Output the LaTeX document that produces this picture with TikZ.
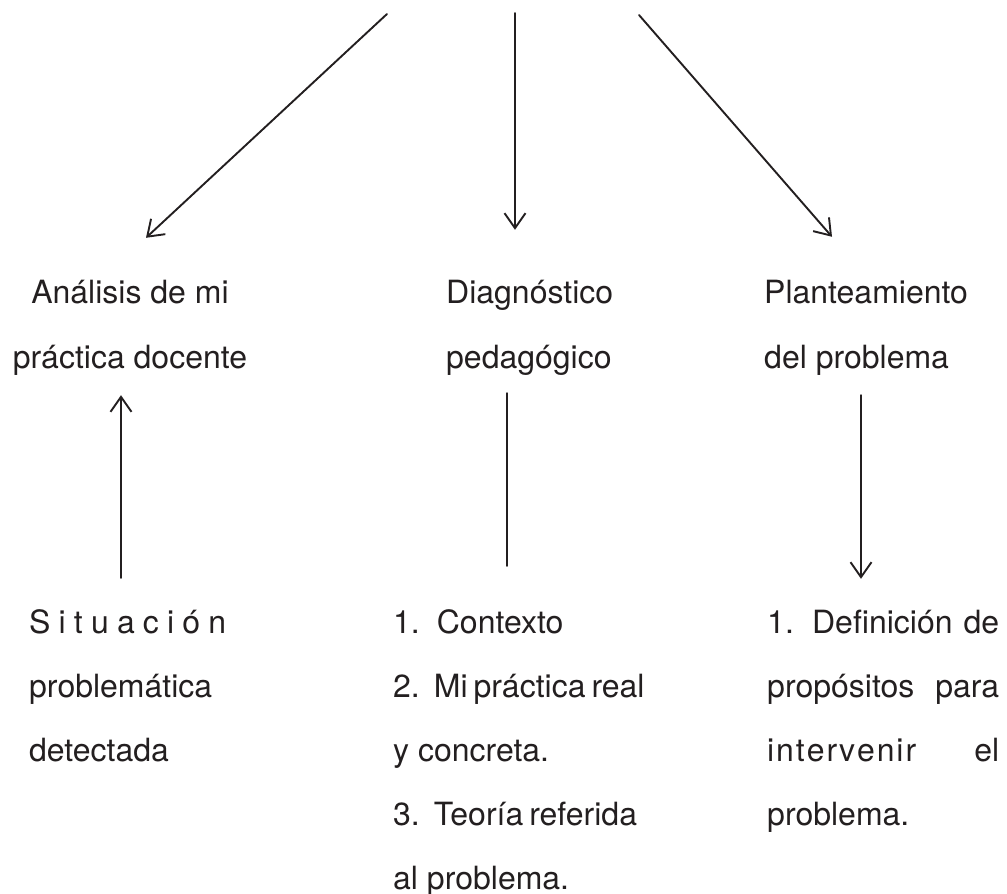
\documentclass[tikz,border=0pt]{standalone}
\usepackage{fontspec}
\setmainfont{TeX Gyre Heros}
\usetikzlibrary{arrows.meta}
\definecolor{ink}{HTML}{231F20}
\newcommand{\spread}[2]{\makebox[#1][s]{#2}}
\newcommand{\nsp}{\hspace{6pt}}
\tikzset{
  txt/.style={inner sep=0pt, anchor=base west, text height=24pt, text depth=7pt, text=ink, font=\fontsize{32}{38}\selectfont},
  flecha/.style={draw=ink, line width=1.9pt, -{Straight Barb[length=15pt,width=21pt,line width=1.9pt]}},
  linea/.style={draw=ink, line width=1.9pt}
}
\begin{document}
\begin{tikzpicture}[x=1pt, y=-1pt, line cap=round, line join=round]
\useasboundingbox (0,0) rectangle (1007,894);
% origen de las flechas
\coordinate (t1) at (387,14);
\coordinate (t2) at (515,13);
\coordinate (t3) at (639,15);
% columnas de las flechas verticales
\coordinate (c1) at (121,0);
\coordinate (c2) at (507,0);
\coordinate (c3) at (861,0);
% fila superior
\node[txt, anchor=base] (ana1) at (130,303) {Análisis de mi};
\node[txt, anchor=base] (ana2) at (130,368) {práctica docente};
\node[txt] (diag1) at (446,303) {Diagnóstico};
\node[txt] (diag2) at (446,368) {pedagógico};
\node[txt] (plan1) at (764,303) {Planteamiento};
\node[txt] (plan2) at (764,368) {del problema};
% fila inferior
\node[txt] (sit1) at (29,633) {\spread{197pt}{S\hfill i\hfill t\hfill u\hfill a\hfill c\hfill i\hfill ó\hfill n}};
\node[txt] (sit2) at (29,697) {problemática};
\node[txt] (sit3) at (29,761) {detectada};
\foreach \lin [count=\i] in {1.\hspace{17pt}Contexto, 2.\hspace{14pt}Mi\nsp práctica\nsp real, y concreta., 3.\hspace{14pt}Teoría\nsp referida, al problema.}
  \node[txt] (ctx\i) at (393,569+64*\i) {\lin};
\node[txt] (def1) at (767,633) {\spread{232pt}{1. Definición de}};
\node[txt] (def2) at (767,697) {\spread{232pt}{propósitos para}};
\node[txt] (def3) at (767,761) {\spread{232pt}{\spread{149pt}{i\hfill n\hfill t\hfill e\hfill r\hfill v\hfill e\hfill n\hfill i\hfill r}\hfill el}};
\node[txt] (def4) at (767,825) {problema.};
% flechas
\draw[flecha] (t1) -- ([xshift=16pt,yshift=41pt]ana1.north);
\draw[flecha] (t2) -- ([xshift=69pt,yshift=49pt]diag1.north west);
\draw[flecha] (t3) -- ([xshift=68pt,yshift=42pt]plan1.north west);
\draw[flecha, shorten <=31pt, shorten >=20pt] (sit1.north -| c1) -- (ana2.south -| c1);
\draw[linea, shorten <=18pt, shorten >=43pt] (diag2.south -| c2) -- (ctx1.north -| c2);
\draw[flecha, shorten <=20pt, shorten >=30pt] (plan2.south -| c3) -- (def1.north -| c3);
\end{tikzpicture}
\end{document}
